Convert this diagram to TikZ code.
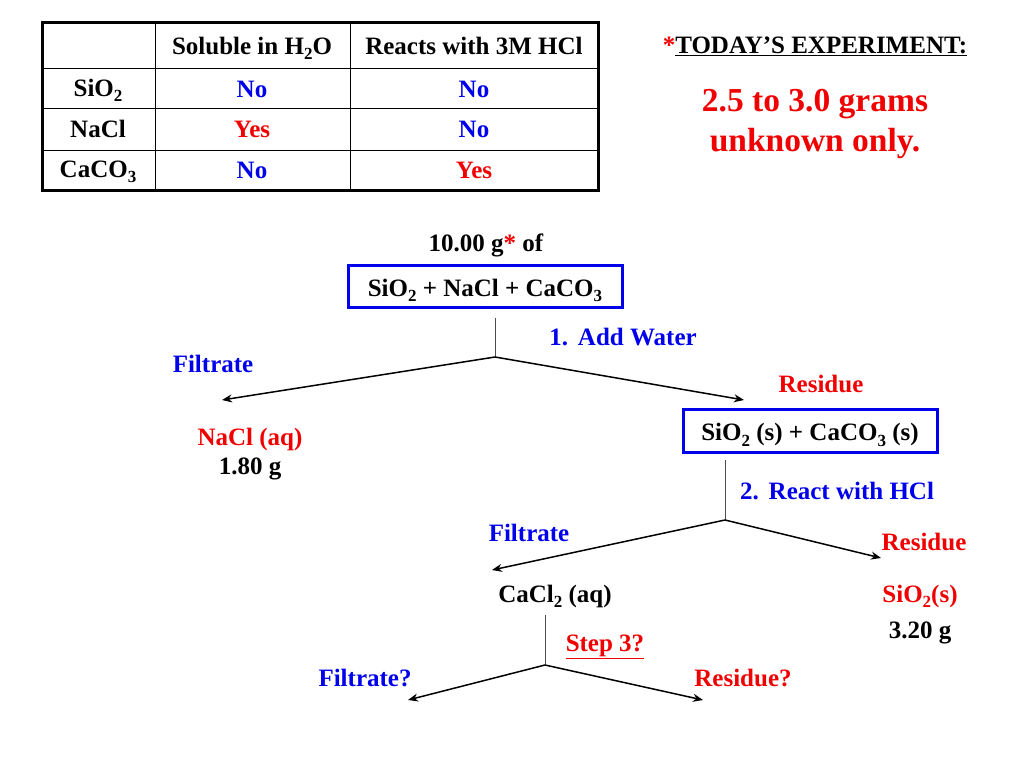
\documentclass[tikz,border=0pt]{standalone}
\usepackage{fontspec}
\setmainfont{Liberation Serif}
\usetikzlibrary{arrows.meta}
\definecolor{myblue}{RGB}{0,0,235}
\definecolor{myred}{RGB}{240,0,0}
\newcommand{\chsub}[1]{\raisebox{-5.5pt}{\fontsize{17}{17}\selectfont #1}}
\begin{document}
\begin{tikzpicture}[x=1pt,y=-1pt,
  txt/.style={font=\fontsize{25}{28}\selectfont\bfseries, inner sep=0pt, anchor=base},
  big/.style={font=\fontsize{33.5}{36}\selectfont\bfseries, inner sep=0pt, anchor=base, text=myred},
  bl/.style={txt, text=myblue},
  rd/.style={txt, text=myred},
  bk/.style={txt, text=black},
  box/.style={draw=myblue, line width=3pt, inner sep=0pt, text height=23pt, text depth=3pt, font=\fontsize{25}{28}\selectfont\bfseries},
  stem/.style={draw=black!70, line width=1pt},
  branch/.style={draw=black, line width=1.5pt, -{Stealth[length=10pt,width=8pt]}},
  thickrule/.style={line width=3pt},
  thinrule/.style={line width=1pt}]
\useasboundingbox (0,0) rectangle (1024,768);
% ---------- table ----------
\draw[thinrule] (155,23) -- (155,190);
\draw[thinrule] (350,23) -- (350,190);
\draw[thinrule] (42,68) -- (598,68);
\draw[thinrule] (42,108) -- (598,108);
\draw[thinrule] (42,150) -- (598,150);
\draw[thickrule] (42,23) rectangle (598,190);
\node[bk] (h1) at (252,54.5) {Soluble in H\chsub{2}O};
\node[bk] (h2) at (474,54.5) {Reacts with 3M HCl};
\node[bk] (r1) at (98,96) {SiO\chsub{2}};
\node[bk] (r2) at (98,137) {NaCl};
\node[bk] (r3) at (98,177) {CaCO\chsub{3}};
\node[bl] (c11) at (252,97) {No};
\node[bl] (c12) at (474,97) {No};
\node[rd] (c21) at (252,137) {Yes};
\node[bl] (c22) at (474,137) {No};
\node[bl] (c31) at (252,178) {No};
\node[rd] (c32) at (474,178) {Yes};
% ---------- today's experiment ----------
\node[bk] (today) at (815,53) {\textcolor{myred}{*}\underline{TODAY’S EXPERIMENT:}};
\node[big] (amt1) at (815,111) {2.5 to 3.0 grams};
\node[big] (amt2) at (815,151) {unknown only.};
% ---------- flow ----------
\node[bk] (mass) at (486,251) {10.00 g\textcolor{myred}{*} of};
\node[box, minimum width=274pt, minimum height=42pt] (mix) at (485,286) {SiO\chsub{2} + NaCl + CaCO\chsub{3}};
\coordinate (s1) at (495,318);
\coordinate (b1) at (495,357);
\coordinate (e1l) at (222,400);
\coordinate (e1r) at (744,400);
\draw[stem] (s1) -- (b1);
\draw[branch] (b1) -- (e1l);
\draw[branch] (b1) -- (e1r);
\node[bl] (step1) at (623,345) {1.\hspace{0.4em}Add Water};
\node[bl] (filt1) at (213,372) {Filtrate};
\node[rd] (res1) at (821,392) {Residue};
\node[rd] (nacl) at (250,445) {NaCl (aq)};
\node[bk] (m1) at (250,474) {1.80 g};
\node[box, minimum width=254pt, minimum height=43pt] (mix2) at (810,430.5) {SiO\chsub{2} (s) + CaCO\chsub{3} (s)};
\coordinate (s2) at (725,460);
\coordinate (b2) at (725,520);
\coordinate (e2l) at (492,570);
\coordinate (e2r) at (881,558);
\draw[stem] (s2) -- (b2);
\draw[branch] (b2) -- (e2l);
\draw[branch] (b2) -- (e2r);
\node[bl] (step2) at (837,499) {2.\hspace{0.4em}React with HCl};
\node[bl] (filt2) at (529,541) {Filtrate};
\node[rd] (res2) at (924,550) {Residue};
\node[bk] (cacl) at (555,602) {CaCl\chsub{2} (aq)};
\node[rd] (sio) at (920,602) {SiO\chsub{2}(s)};
\node[bk] (m2) at (920,638) {3.20 g};
\coordinate (s3) at (545,615);
\coordinate (b3) at (545,665);
\coordinate (e3l) at (408,700);
\coordinate (e3r) at (703,700);
\draw[stem] (s3) -- (b3);
\draw[branch] (b3) -- (e3l);
\draw[branch] (b3) -- (e3r);
\node[rd] (step3) at (605,651) {\underline{Step 3?}};
\node[bl] (filt3) at (365,686) {Filtrate?};
\node[rd] (res3) at (743,686) {Residue?};
\end{tikzpicture}
\end{document}
